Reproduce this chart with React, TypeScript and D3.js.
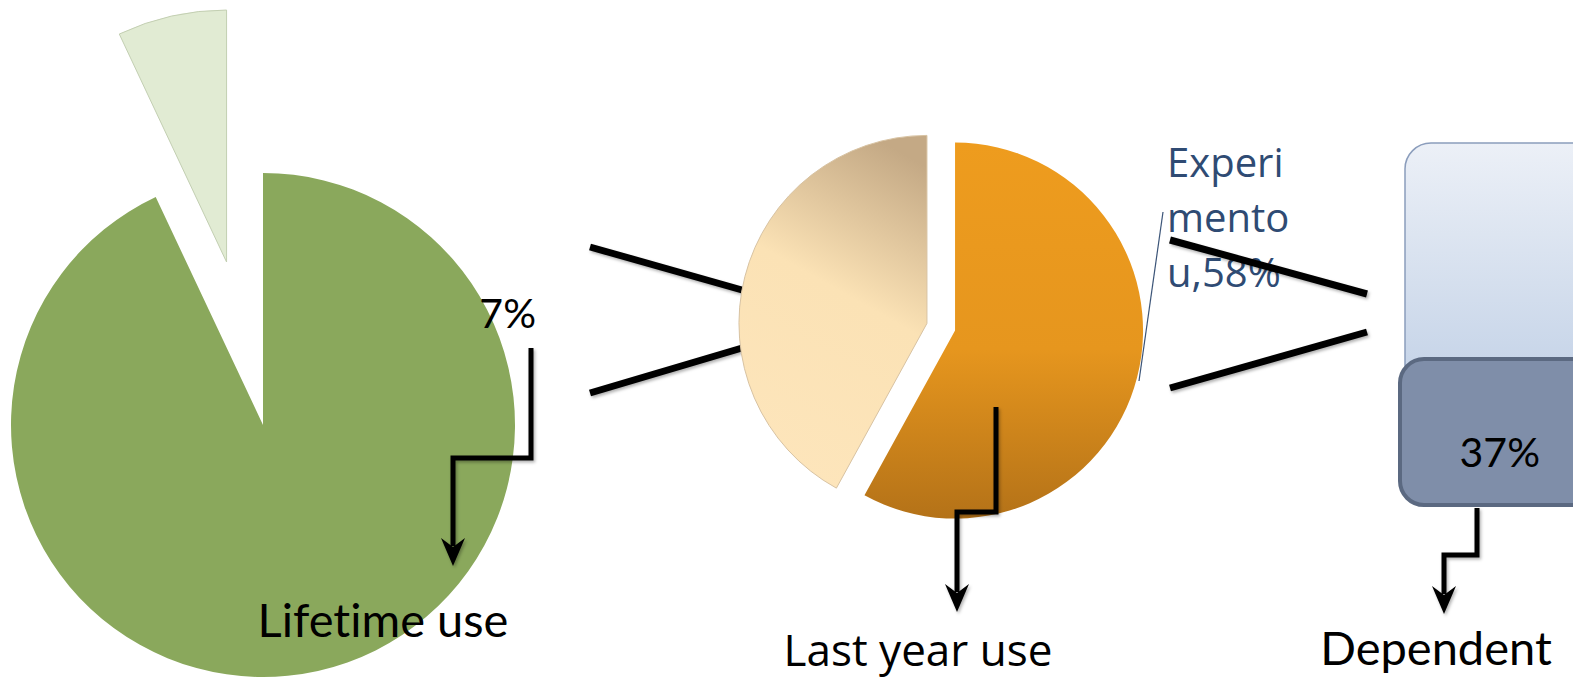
import { useMemo } from 'react';
import * as d3 from 'd3';

// data
const lifetimeCats = ['No use', 'Lifetime use'];
const lifetimeValues = [93, 7];
const lastYearCats = ['Experimentou', 'No last year use'];
const lastYearValues = [58, 42];
const dependentCats = ['Dependent', 'Not dependent'];
const dependentValues = [37, 63];
const expLabelLines = ['Experi', 'mento', 'u,58%'];
const stageLabels = ['Lifetime use', 'Last year use', 'Dependent'];

const W = 1573;
const H = 681;

type Slice = d3.PieArcDatum<number>;

function explodedArcs(values: number[], r: number) {
  const pie = d3.pie<number>().value((d) => d).sort(null);
  const arc = d3.arc<Slice>().innerRadius(0).outerRadius(r);
  return pie(values).map((d) => ({ d, path: arc(d) || '' }));
}

function shift(d: Slice, dist: number) {
  const mid = (d.startAngle + d.endAngle) / 2;
  return [Math.sin(mid) * dist, -Math.cos(mid) * dist];
}

// elbow arrow pointing down, head drawn as a path
function Arrow({ pts }: { pts: [number, number][] }) {
  const [tx, ty] = pts[pts.length - 1];
  const body = pts.slice(0, -1).concat([[tx, ty - 20]]);
  const head = `M${tx},${ty} L${tx - 12},${ty - 28} L${tx},${ty - 19} L${tx + 12},${ty - 28} Z`;
  return (
    <g filter="url(#shadow)">
      <polyline
        points={body.map((p) => p.join(',')).join(' ')}
        fill="none"
        stroke="#000"
        strokeWidth={5}
      />
      <path d={head} fill="#000" />
    </g>
  );
}

export default function App() {
  const green = useMemo(() => explodedArcs(lifetimeValues, 252), []);
  const orange = useMemo(() => explodedArcs(lastYearValues, 188), []);
  const greenExplode = [0, 167];
  const orangeExplode = [14.5, 14.5];
  const greenFill = ['#8aa85c', '#e1ebd3'];
  const orangeFill = ['url(#orangeGrad)', 'url(#tanGrad)'];

  const y = d3.scaleLinear().domain([0, d3.sum(dependentValues)]).range([505, 143]);
  const barX = 1400;
  const barW = 240;

  const labelFont = 'Lato, sans-serif';
  const noLig = { fontVariantLigatures: 'none' as const };

  return (
    <svg
      width={W}
      height={H}
      style={{ position: 'fixed', left: 0, top: 0, background: '#fff' }}
    >
      <defs>
        <linearGradient id="orangeGrad" x1="0" y1="0" x2="0" y2="1">
          <stop offset="0" stopColor="#ee9c1e" />
          <stop offset="0.55" stopColor="#e6961e" />
          <stop offset="1" stopColor="#b47218" />
        </linearGradient>
        <linearGradient id="tanGrad" x1="0.7" y1="0" x2="0.4" y2="1">
          <stop offset="0" stopColor="#c4a985" />
          <stop offset="0.45" stopColor="#fbe2b5" />
          <stop offset="1" stopColor="#fde5bb" />
        </linearGradient>
        <linearGradient id="lightBar" x1="0" y1="0" x2="0" y2="1">
          <stop offset="0" stopColor="#ecf0f7" />
          <stop offset="1" stopColor="#c3d2e7" />
        </linearGradient>
        <filter id="shadow" x="-20%" y="-20%" width="140%" height="140%">
          <feDropShadow dx="1.5" dy="2" stdDeviation="1.5" floodColor="#000" floodOpacity="0.3" />
        </filter>
      </defs>

      {/* lifetime pie */}
      <g transform="translate(263,425)">
        {green.map(({ d, path }, i) => {
          const [dx, dy] = shift(d, greenExplode[i]);
          return (
            <path
              key={lifetimeCats[i]}
              d={path}
              transform={`translate(${dx},${dy})`}
              fill={greenFill[i]}
              stroke={i === 1 ? '#c3cfb2' : 'none'}
              strokeWidth={1}
            />
          );
        })}
      </g>
      <text x={536} y={328} textAnchor="end" fontFamily={labelFont} fontSize={41} fill="#000">
        {lifetimeValues[1]}%
      </text>
      <Arrow pts={[[531, 348], [531, 458], [453, 458], [453, 566]]} />
      <text x={383} y={637} textAnchor="middle" fontFamily={labelFont} fontSize={47} fill="#000" style={noLig}>
        {stageLabels[0]}
      </text>

      {/* connectors */}
      <g stroke="#000" strokeWidth={7} filter="url(#shadow)">
        <line x1={590} y1={247} x2={742} y2={290} />
        <line x1={590} y1={393} x2={742} y2={348} />
        <line x1={1170} y1={388} x2={1367} y2={332} />
      </g>

      {/* last year pie */}
      <g transform="translate(941,327)">
        {orange.map(({ d, path }, i) => {
          const [dx, dy] = shift(d, orangeExplode[i]);
          return (
            <path
              key={lastYearCats[i]}
              d={path}
              transform={`translate(${dx},${dy})`}
              fill={orangeFill[i]}
              stroke={i === 1 ? '#d8c3a3' : 'none'}
              strokeWidth={1}
            />
          );
        })}
      </g>
      <line x1={1139} y1={381} x2={1163} y2={212} stroke="#3b5478" strokeWidth={1.2} />
      {expLabelLines.map((t, i) => (
        <text
          key={t}
          x={1167}
          y={177 + i * 55}
          fontFamily="'Open Sans', sans-serif"
          fontSize={40}
          fill="#2f4b73"
        >
          {t}
        </text>
      ))}
      {/* this connector crosses over the label text */}
      <line x1={1170} y1={240} x2={1367} y2={294} stroke="#000" strokeWidth={7} filter="url(#shadow)" />
      <Arrow pts={[[996, 407], [996, 512], [957, 512], [957, 612]]} />
      <text x={918} y={666} textAnchor="middle" fontFamily="'Open Sans', sans-serif" fontSize={44} fill="#000">
        {stageLabels[1]}
      </text>

      {/* dependent bar */}
      <rect
        x={barX + 5}
        y={y(d3.sum(dependentValues))}
        width={barW}
        height={y(dependentValues[0]) - y(d3.sum(dependentValues)) + 20}
        rx={26}
        fill="url(#lightBar)"
        stroke="#8b9dbc"
        strokeWidth={1.5}
      />
      <rect
        x={barX}
        y={y(dependentValues[0]) - 12}
        width={barW}
        height={y(0) - y(dependentValues[0]) + 12}
        rx={24}
        fill="#7f8ea9"
        stroke="#5b6981"
        strokeWidth={4}
      />
      <text x={1540} y={467} textAnchor="end" fontFamily={labelFont} fontSize={41} fill="#000">
        {dependentValues[0]}%
      </text>
      <Arrow pts={[[1477, 508], [1477, 555], [1444, 555], [1444, 614]]} />
      <text x={1436} y={665} textAnchor="middle" fontFamily={labelFont} fontSize={47} fill="#000">
        {stageLabels[2]}
      </text>
    </svg>
  );
}
